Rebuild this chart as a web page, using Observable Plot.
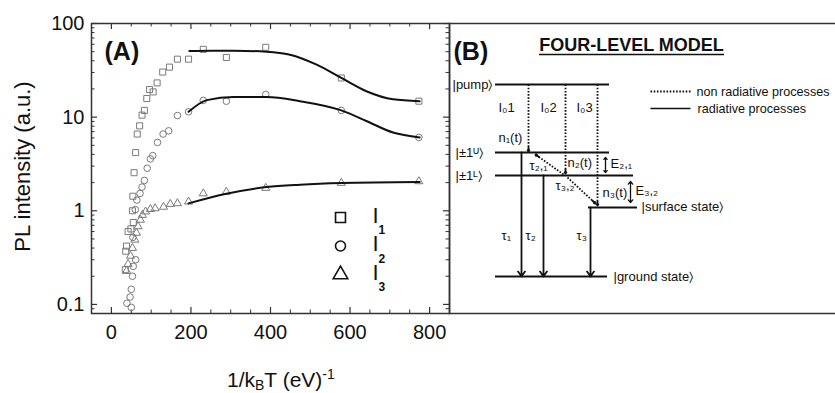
<!DOCTYPE html>
<html><head><meta charset="utf-8">
<script src="https://cdn.jsdelivr.net/npm/d3@7"></script>
<script src="https://cdn.jsdelivr.net/npm/@observablehq/plot@0.6"></script>
<style>
body{margin:0;background:#fff;}
#wrap{position:relative;width:835px;height:393px;overflow:hidden;font-family:"Liberation Sans",Arial,sans-serif;color:#111;}
#wrap svg{position:absolute;top:0;}
#xlabel{position:absolute;left:227px;top:364px;font-size:21px;line-height:21px;white-space:nowrap;}
#xlabel sub{font-size:14px;vertical-align:-3px;}
#xlabel sup{font-size:14px;vertical-align:8px;}
</style></head><body><div id="wrap"><div id="xlabel">1/k<sub>B</sub>T (eV)<sup>-1</sup></div></div>
<script>
// ---------- Panel A data ----------
const xTicks = [0, 200, 400, 600, 800];
const xTickLabels = ["0", "200", "400", "600", "800"];
const yTicks = [0.1, 1, 10, 100];
const yTickLabels = ["0.1", "1", "10", "100"];
const xMinor = [-50, 50, 100, 150, 250, 300, 350, 450, 500, 550, 650, 700, 750, 850];
const yMinor = [0.09, 0.2, 0.3, 0.4, 0.5, 0.6, 0.7, 0.8, 0.9, 2, 3, 4, 5, 6, 7, 8, 9, 20, 30, 40, 50, 60, 70, 80, 90];

const I1x = [773, 578, 388, 289, 231, 194, 166, 146, 129, 115, 105, 96, 89, 83, 77, 71, 65, 61, 57, 54, 53, 55, 49, 42, 38, 36, 35];
const I1y = [14.8, 26.2, 55.7, 43.4, 53, 41.6, 41.6, 34.2, 30.3, 23.2, 18.6, 19.7, 15.8, 11.8, 10.5, 8.07, 6.6, 4.18, 2.55, 1.43, 1.0, 0.75, 0.64, 0.6, 0.42, 0.37, 0.235];
const I2x = [773, 578, 388, 289, 231, 194, 166, 144, 130, 116, 104, 98, 90, 83, 77, 72, 64, 60, 54, 61, 55, 53, 50, 47, 39, 50];
const I2y = [6.07, 11.8, 17.5, 14.8, 15.1, 11.4, 10.4, 7.14, 6.6, 5.37, 3.88, 3.58, 2.85, 2.11, 1.79, 1.53, 1.30, 1.03, 0.52, 0.30, 0.255, 0.2, 0.145, 0.12, 0.103, 0.093];
const I3x = [773, 578, 388, 289, 231, 194, 166, 148, 131, 110, 98, 86, 78, 73, 67, 63, 59, 53, 48, 42, 38];
const I3y = [2.06, 1.98, 1.75, 1.59, 1.53, 1.25, 1.2, 1.18, 1.10, 1.06, 1.04, 0.98, 0.9, 0.8, 0.68, 0.58, 0.49, 0.4, 0.33, 0.27, 0.227];

const fit1x = [196, 250, 307, 390, 449, 516, 578, 641, 708, 775];
const fit1y = [51, 51.3, 51.2, 50, 46.4, 36.3, 26.2, 18.9, 15.5, 14.8];
const fit2x = [194, 240, 307, 390, 474, 578, 641, 708, 775];
const fit2y = [11.4, 15.2, 16.4, 16.4, 14.8, 11.8, 9.1, 6.85, 6.07];
const fit3x = [194, 289, 390, 474, 578, 775];
const fit3y = [1.2, 1.52, 1.79, 1.9, 1.98, 2.03];

const seriesSymbols = ["square", "circle", "triangle"];
const seriesNames = ["I", "I", "I"];
const seriesSubs = ["1", "2", "3"];

// ---------- Panel B data ----------
const levels = [
  {name: "pump", x1: 46, x2: 160, y: 61},
  {name: "U", x1: 46, x2: 160, y: 129},
  {name: "L", x1: 46, x2: 184, y: 152},
  {name: "surface", x1: 139, x2: 188, y: 184},
  {name: "ground", x1: 46, x2: 158, y: 253}
];
const radiative = [
  {x1: 72, y1: 129, x2: 72, y2: 253},
  {x1: 94, y1: 152, x2: 94, y2: 253},
  {x1: 141, y1: 184, x2: 141, y2: 253}
];
const nonRadiative = [
  {x1: 79, y1: 61, x2: 79, y2: 128},
  {x1: 116, y1: 61, x2: 116, y2: 150},
  {x1: 148, y1: 61, x2: 148, y2: 182},
  {x1: 114, y1: 151, x2: 86, y2: 131},
  {x1: 118, y1: 154, x2: 146, y2: 180}
];
const energyGaps = [
  {x: 156, y1: 134, y2: 149},
  {x: 181, y1: 158, y2: 179}
];
const KET = "\u232A";
const labelsB = [
  {t: "|pump" + KET, x: 3, y: 61},
  {t: "|\u00B11\u1D41" + KET, x: 6, y: 129},
  {t: "|\u00B11\u1D38" + KET, x: 6, y: 152},
  {t: "I\u20801", x: 49, y: 84},
  {t: "I\u20802", x: 91, y: 84},
  {t: "I\u20803", x: 127, y: 84},
  {t: "n\u2081(t)", x: 49, y: 114},
  {t: "\u03C4\u2082,\u2081", x: 80, y: 142},
  {t: "n\u2082(t)", x: 118, y: 139},
  {t: "E\u2082,\u2081", x: 161, y: 140},
  {t: "\u03C4\u2083,\u2082", x: 106, y: 162},
  {t: "n\u2083(t)", x: 153, y: 169},
  {t: "E\u2083,\u2082", x: 186, y: 167},
  {t: "|surface state" + KET, x: 192, y: 183},
  {t: "\u03C4\u2081", x: 52, y: 212},
  {t: "\u03C4\u2082", x: 76, y: 212},
  {t: "\u03C4\u2083", x: 127, y: 212},
  {t: "|ground state" + KET, x: 164, y: 253}
];
const legendB = [
  {label: "non radiative processes", dashed: true, x1: 201, x2: 242, y: 68, tx: 247},
  {label: "radiative processes", dashed: false, x1: 201, x2: 241, y: 85, tx: 248}
];
const titleB = [{t: "FOUR-LEVEL MODEL", x: 182, y: 22, ux1: 90, ux2: 275, uy: 31}];
const panelTags = ["(A)", "(B)"];

// ---------- build ----------
const FONT = "Liberation Sans, Arial, Helvetica, sans-serif";
const zip = (xs, ys) => xs.map((x, i) => ({x, y: ys[i]}));
const I1 = zip(I1x, I1y), I2 = zip(I2x, I2y), I3 = zip(I3x, I3y);
const fits = [zip(fit1x, fit1y), zip(fit2x, fit2y), zip(fit3x, fit3y)];

const H = 393;
const mA = {top: 23, right: 1, bottom: 80, left: 91};
const WA = 450;
const innerW = WA - mA.left - mA.right;
const innerH = H - mA.top - mA.bottom;
const axisColor = "#333";
const ptColor = "#7a7a7a";

const legendMarks = seriesSymbols.flatMap((s, i) => [
  Plot.dot([s], {frameAnchor: "top-left", dx: 249, dy: 194 + i * 28.5, symbol: d => d, r: s === "circle" ? 5 : s === "square" ? 5.6 : 5.4, stroke: "#111", strokeWidth: 1.6, fill: "none"}),
  Plot.text([seriesNames[i]], {frameAnchor: "top-left", dx: 281, dy: 192 + i * 28.5, text: d => d, fontSize: 22, textAnchor: "start", lineAnchor: "middle", fill: "#111"}),
  Plot.text([seriesSubs[i]], {frameAnchor: "top-left", dx: 287, dy: 207 + i * 28.5, text: d => d, fontSize: 12, fontWeight: "bold", textAnchor: "start", lineAnchor: "middle", fill: "#111"})
]);

const plotA = Plot.plot({
  width: WA, height: H,
  marginTop: mA.top, marginRight: mA.right, marginBottom: mA.bottom, marginLeft: mA.left,
  style: {fontFamily: FONT, background: "transparent", color: "#111", overflow: "visible"},
  x: {domain: [-50, 850]},
  y: {type: "log", domain: [0.08, 100]},
  marks: [
    Plot.frame({stroke: axisColor, strokeWidth: 1.5}),
    Plot.tickY(yTicks, {y: d => d, insetRight: innerW - 6, stroke: axisColor, strokeWidth: 1.2}),
    Plot.tickY(yMinor, {y: d => d, insetRight: innerW - 3.5, stroke: axisColor}),
    Plot.tickY(yTicks, {y: d => d, insetLeft: innerW - 6, stroke: axisColor, strokeWidth: 1.2}),
    Plot.tickY(yMinor, {y: d => d, insetLeft: innerW - 3.5, stroke: axisColor}),
    Plot.tickX(xTicks, {x: d => d, insetTop: innerH - 6, stroke: axisColor, strokeWidth: 1.2}),
    Plot.tickX(xMinor, {x: d => d, insetTop: innerH - 3.5, stroke: axisColor}),
    Plot.tickX(xTicks, {x: d => d, insetBottom: innerH - 6, stroke: axisColor, strokeWidth: 1.2}),
    Plot.tickX(xMinor, {x: d => d, insetBottom: innerH - 3.5, stroke: axisColor}),
    Plot.axisX(xTicks, {tickSize: 0, tickPadding: 11, fontSize: 20, label: null, tickFormat: d => xTickLabels[xTicks.indexOf(d)]}),
    Plot.axisY(yTicks, {tickSize: 0, tickPadding: 7, fontSize: 20, label: null, tickFormat: d => yTickLabels[yTicks.indexOf(d)]}),
    Plot.text(["PL intensity (a.u.)"], {frameAnchor: "left", dx: -69, dy: -2, rotate: -90, text: d => d, fontSize: 22, textAnchor: "middle", fill: "#111"}),
    Plot.text([panelTags[0]], {frameAnchor: "top-left", dx: 13, dy: 28, text: d => d, fontSize: 25, fontWeight: "bold", textAnchor: "start", lineAnchor: "middle", fill: "#111"}),
    Plot.dot(I1, {x: "x", y: "y", symbol: "square", r: 3.4, stroke: ptColor, strokeWidth: 1, fill: "none"}),
    Plot.dot(I2, {x: "x", y: "y", symbol: "circle", r: 3.3, stroke: ptColor, strokeWidth: 1, fill: "none"}),
    Plot.dot(I3, {x: "x", y: "y", symbol: "triangle", r: 3, stroke: ptColor, strokeWidth: 1, fill: "none"}),
    ...fits.map(f => Plot.line(f, {x: "x", y: "y", curve: "monotone-x", stroke: "#111", strokeWidth: 2})),
    ...legendMarks
  ]
});
plotA.style.left = "0px";

const heads = nonRadiative.map(d => {
  const len = Math.hypot(d.x2 - d.x1, d.y2 - d.y1), k = 4 / len;
  return {x1: d.x2 - (d.x2 - d.x1) * k, y1: d.y2 - (d.y2 - d.y1) * k, x2: d.x2, y2: d.y2};
});
const gapArrows = energyGaps.flatMap(g => {
  const m = (g.y1 + g.y2) / 2;
  return [{x1: g.x, y1: m, x2: g.x, y2: g.y1}, {x1: g.x, y1: m, x2: g.x, y2: g.y2}];
});

const plotB = Plot.plot({
  width: 402, height: H,
  marginTop: 23, marginBottom: 80, marginLeft: 1, marginRight: 1,
  style: {fontFamily: FONT, background: "transparent", color: "#111", overflow: "visible"},
  x: {domain: [0, 400], axis: null},
  y: {domain: [0, 290], reverse: true, axis: null},
  marks: [
    Plot.frame({stroke: axisColor, strokeWidth: 1.5}),
    Plot.text([panelTags[1]], {x: 4, y: 28, text: d => d, fontSize: 25, fontWeight: "bold", textAnchor: "start", fill: "#111"}),
    Plot.text(titleB, {x: "x", y: "y", text: "t", fontSize: 18, fontWeight: "bold", textAnchor: "middle", fill: "#111"}),
    Plot.ruleY(titleB, {y: "uy", x1: "ux1", x2: "ux2", stroke: "#111", strokeWidth: 1.3}),
    Plot.ruleY(levels, {y: "y", x1: "x1", x2: "x2", stroke: "#111", strokeWidth: 2}),
    Plot.arrow(radiative, {x1: "x1", y1: "y1", x2: "x2", y2: "y2", stroke: "#111", strokeWidth: 1.8, headLength: 5, headAngle: 70}),
    Plot.link(nonRadiative, {x1: "x1", y1: "y1", x2: "x2", y2: "y2", stroke: "#111", strokeWidth: 1.8, strokeDasharray: "1.6 1.6"}),
    Plot.arrow(heads, {x1: "x1", y1: "y1", x2: "x2", y2: "y2", stroke: "#111", strokeWidth: 1.8, headLength: 5, headAngle: 80}),
    Plot.arrow(gapArrows, {x1: "x1", y1: "y1", x2: "x2", y2: "y2", stroke: "#111", strokeWidth: 1.3, headLength: 4, headAngle: 80}),
    Plot.text(labelsB, {x: "x", y: "y", text: "t", fontSize: 13, textAnchor: "start", fill: "#111"}),
    Plot.link(legendB.filter(d => d.dashed), {x1: "x1", x2: "x2", y1: "y", y2: "y", stroke: "#111", strokeWidth: 1.8, strokeDasharray: "1.6 1.6"}),
    Plot.link(legendB.filter(d => !d.dashed), {x1: "x1", x2: "x2", y1: "y", y2: "y", stroke: "#111", strokeWidth: 1.6}),
    Plot.text(legendB, {x: "tx", y: "y", text: "label", fontSize: 12.6, textAnchor: "start", fill: "#111"})
  ]
});
plotB.style.left = "448px";

const wrap = document.getElementById("wrap");
wrap.appendChild(plotA);
wrap.appendChild(plotB);
</script></body></html>
